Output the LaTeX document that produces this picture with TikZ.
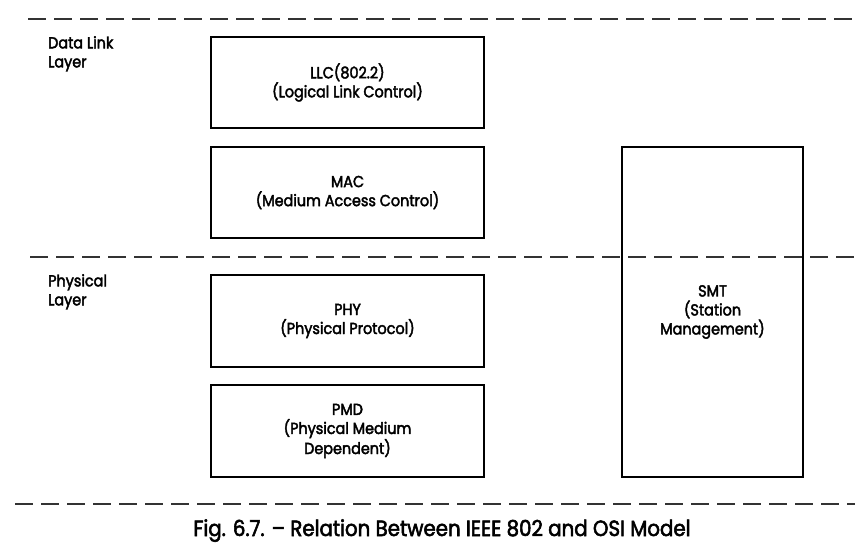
\documentclass[tikz,border=0pt]{standalone}
\usepackage{fontspec}
\setmainfont[FakeStretch=0.9,FakeBold=2.5]{Poppins}
\newfontfamily\capfont[FakeStretch=0.9,FakeBold=2.5]{Poppins}
\begin{document}
\begin{tikzpicture}[x=1pt,y=-1pt,
  layerbox/.style={draw=black, line width=2.2pt, inner sep=0pt, align=center,
    font=\fontsize{16}{19}\selectfont},
  sidelabel/.style={anchor=north west, inner sep=0pt, align=left,
    font=\fontsize{16}{19}\selectfont},
  divider/.style={draw=black!80, line width=2.5pt, dash pattern=on 18pt off 8pt}]
\useasboundingbox (0,0) rectangle (860,545);

% layer boundaries
\coordinate (t1) at (28,19);   \coordinate (t2) at (860,19);
\coordinate (m1) at (30,257);  \coordinate (m2) at (860,257);
\coordinate (b1) at (15,504);  \coordinate (b2) at (855,504);
\draw[divider] (t1) -- (t2);
\draw[divider] (m1) -- (m2);
\draw[divider] (b1) -- (b2);

% layer names
\node[sidelabel] (dll) at (48,36) {Data Link\\Layer};
\node[sidelabel] (phl) at (48,274) {Physical\\Layer};

% sublayer boxes
\node[layerbox, minimum width=273pt, minimum height=91pt] (llc) at (347.5,82.5)
  {LLC(802.2)\\(Logical Link Control)};
\node[layerbox, minimum width=273pt, minimum height=91pt] (mac) at (347.5,192.5)
  {MAC\\(Medium Access Control)};
\node[layerbox, minimum width=273pt, minimum height=92pt] (phy) at (347.5,321)
  {PHY\\(Physical Protocol)};
\node[layerbox, minimum width=273pt, minimum height=92pt] (pmd) at (347.5,431)
  {PMD\\(Physical Medium\\Dependent)};
\node[layerbox, minimum width=181pt, minimum height=330pt] (smt) at (712.5,312)
  {SMT\\(Station\\Management)};

% caption
\node[font=\capfont\fontsize{22}{26}\selectfont, inner sep=0pt, anchor=base] (cap) at (442,536)
  {Fig. 6.7. – Relation Between IEEE 802 and OSI Model};
\end{tikzpicture}
\end{document}
